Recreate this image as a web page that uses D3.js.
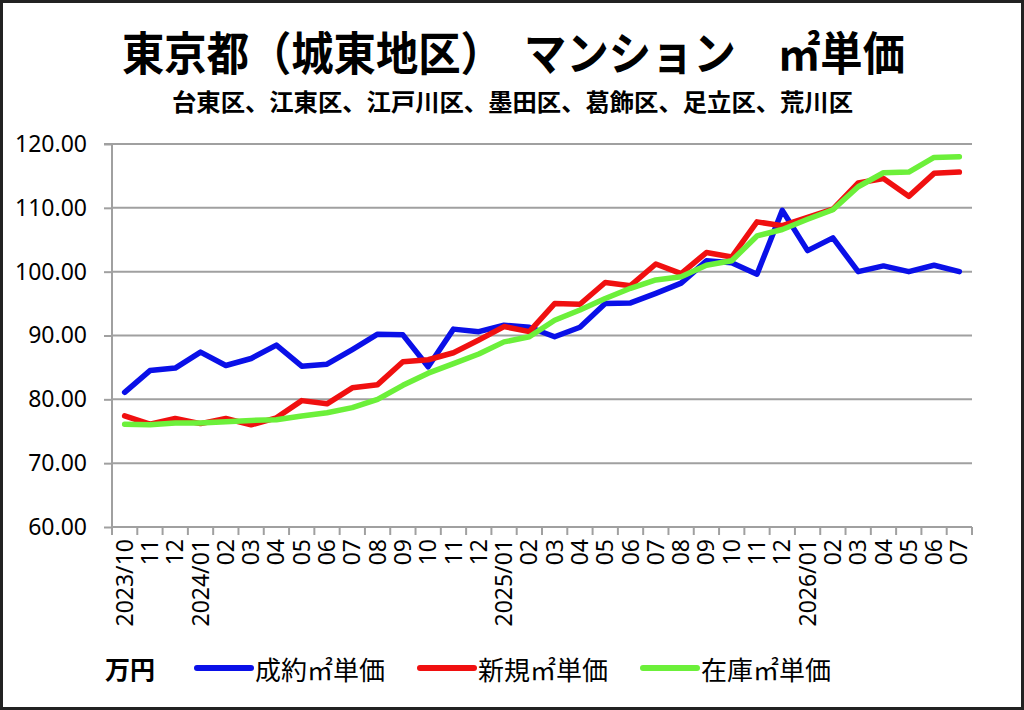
<!DOCTYPE html>
<html>
<head>
<meta charset="utf-8">
<script src="https://cdn.jsdelivr.net/npm/d3@7/dist/d3.min.js"></script>
<style>
  body { margin: 0; background: #fff; }
  svg { display: block; }
</style>
</head>
<body>
<div id="chart"></div>
<script>
// month labels, 2023/10 .. 2026/07
const months = ["2023/10", "11", "12", "2024/01", "02", "03", "04", "05", "06", "07", "08", "09", "10", "11", "12",
                "2025/01", "02", "03", "04", "05", "06", "07", "08", "09", "10", "11", "12",
                "2026/01", "02", "03", "04", "05", "06", "07"];

// 成約㎡単価
const seiyaku = [81.1, 84.5, 84.9, 87.4, 85.3, 86.4, 88.5, 85.2, 85.5, 87.8, 90.2, 90.1, 85.1,
                 91.0, 90.6, 91.6, 91.3, 89.8, 91.3, 95.0, 95.1, 96.6, 98.2, 101.7,
                 101.4, 99.6, 109.6, 103.3, 105.3, 100.0, 100.9, 100.0, 101.0, 100.0];
// 新規㎡単価
const shinki = [77.4, 76.1, 77.0, 76.2, 77.0, 76.0, 77.1, 79.8, 79.3, 81.8, 82.3, 85.9, 86.2,
                87.3, 89.3, 91.4, 90.6, 95.0, 94.9, 98.3, 97.8, 101.2, 99.7, 103.0,
                102.3, 107.8, 107.2, 108.5, 109.8, 113.9, 114.6, 111.8, 115.4, 115.6];
// 在庫㎡単価
const zaiko = [76.1, 76.0, 76.3, 76.3, 76.5, 76.7, 76.8, 77.4, 77.9, 78.7, 80.0, 82.2, 84.1,
               85.6, 87.1, 89.0, 89.8, 92.4, 94.0, 95.8, 97.4, 98.7, 99.2, 101.0,
               101.7, 105.6, 106.6, 108.2, 109.7, 113.3, 115.5, 115.6, 117.9, 118.0];

const yTicks = [60, 70, 80, 90, 100, 110, 120];

const series = [
    {name: "成約㎡単価", values: seiyaku, color: "#0a10e8"},
    {name: "新規㎡単価", values: shinki, color: "#f01010"},
    {name: "在庫㎡単価", values: zaiko, color: "#6cf03a"}
];

const width = 1024;
const height = 710;
const plotLeft = 112, plotRight = 972, plotTop = 144, plotBottom = 527;
const jpFont = "'Noto Sans CJK JP', 'Noto Sans', sans-serif";
const numFont = "'Noto Sans', 'DejaVu Sans', sans-serif";

let svg = d3.select("#chart")
            .append("svg")
            .attr("width", width)
            .attr("height", height);

// outer frame
svg.append("rect")
   .attr("x", 1.5)
   .attr("y", 1.5)
   .attr("width", width - 3)
   .attr("height", height - 3)
   .attr("fill", "#fff")
   .attr("stroke", "#222")
   .attr("stroke-width", 3);

// titles
svg.append("text")
   .attr("x", 122)
   .attr("y", 50)
   .attr("dominant-baseline", "central")
   .attr("textLength", 783)
   .attr("lengthAdjust", "spacingAndGlyphs")
   .style("font-family", jpFont)
   .style("font-weight", "bold")
   .style("font-size", "46px")
   .text("東京都（城東地区）　マンション　㎡単価");

svg.append("text")
   .attr("x", 172)
   .attr("y", 100)
   .attr("dominant-baseline", "central")
   .attr("textLength", 681)
   .attr("lengthAdjust", "spacingAndGlyphs")
   .style("font-family", jpFont)
   .style("font-weight", "bold")
   .style("font-size", "24px")
   .text("台東区、江東区、江戸川区、墨田区、葛飾区、足立区、荒川区");

let x = d3.scaleBand()
          .domain(d3.range(months.length))
          .range([plotLeft, plotRight]);
let y = d3.scaleLinear()
          .domain([60, 120])
          .range([plotBottom, plotTop]);

// horizontal gridlines
svg.append("g")
   .selectAll("line")
   .data(yTicks.slice(1))
   .join("line")
   .attr("x1", plotLeft)
   .attr("x2", plotRight)
   .attr("y1", d => y(d))
   .attr("y2", d => y(d))
   .attr("stroke", "#a0a0a0")
   .attr("stroke-width", 2);

// y axis
let yAxis = svg.append("g")
               .attr("transform", `translate(${plotLeft},0)`)
               .call(d3.axisLeft(y).tickValues(yTicks).tickFormat(d3.format(".2f")).tickSize(8).tickPadding(17));
yAxis.selectAll("path, line").attr("stroke", "#a0a0a0").attr("stroke-width", 2);
yAxis.select(".domain").attr("d", `M-8,${y(120)}H0V${y(60)}`);
yAxis.selectAll("text")
     .style("font-family", numFont)
     .style("font-size", "23px")
     .attr("fill", "#000");

// x axis: ticks between categories, labels at centers
let xAxis = svg.append("g")
               .attr("transform", `translate(0,${plotBottom})`)
               .call(d3.axisBottom(x).tickSize(0).tickPadding(0).tickFormat(i => months[i]));
xAxis.select(".domain").attr("d", `M${plotLeft},0H${plotRight}`).attr("stroke", "#a0a0a0").attr("stroke-width", 2);
xAxis.selectAll(".tick text")
     .attr("transform", "rotate(-90)")
     .attr("x", -12)
     .attr("y", 0)
     .attr("dy", "0.35em")
     .attr("text-anchor", "end")
     .style("font-family", numFont)
     .style("font-size", "23px")
     .attr("fill", "#000");
xAxis.append("g")
     .selectAll("line")
     .data(d3.range(months.length + 1))
     .join("line")
     .attr("x1", i => plotLeft + i * x.step())
     .attr("x2", i => plotLeft + i * x.step())
     .attr("y1", 0)
     .attr("y2", 8)
     .attr("stroke", "#a0a0a0")
     .attr("stroke-width", 2);

// series lines
let line = d3.line()
             .x((d, i) => x(i) + x.bandwidth() / 2)
             .y(d => y(d));

svg.append("g")
   .selectAll("path")
   .data(series)
   .join("path")
   .attr("d", d => line(d.values))
   .attr("fill", "none")
   .attr("stroke", d => d.color)
   .attr("stroke-width", 5.5)
   .attr("stroke-linejoin", "round")
   .attr("stroke-linecap", "round");

// legend
let legendY = 668;
svg.append("text")
   .attr("x", 105)
   .attr("y", legendY)
   .attr("dominant-baseline", "central")
   .style("font-family", jpFont)
   .style("font-weight", "bold")
   .style("font-size", "25px")
   .text("万円");

let legendX = [197, 420, 643];
let legend = svg.append("g")
                .selectAll("g")
                .data(series)
                .join("g")
                .attr("transform", (d, i) => `translate(${legendX[i]},${legendY})`);
legend.append("line")
      .attr("x1", 0)
      .attr("x2", 54)
      .attr("stroke", d => d.color)
      .attr("stroke-width", 6)
      .attr("stroke-linecap", "round");
legend.append("text")
      .attr("x", 58)
      .attr("dominant-baseline", "central")
      .style("font-family", jpFont)
      .style("font-size", "26px")
      .text(d => d.name);
</script>
</body>
</html>
